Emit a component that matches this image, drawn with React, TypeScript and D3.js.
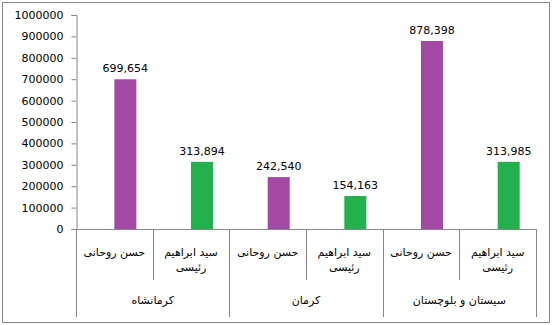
import React, { useEffect, useRef } from 'react';
import * as d3 from 'd3';

const groups = ['کرمانشاه', 'کرمان', 'سیستان و بلوچستان'];
const candidates = [['حسن روحانی'], ['سید ابراهیم', 'رئیسی']];
const seriesKeys = ['rouhani', 'raisi'];
const votes = [699654, 313894, 242540, 154163, 878398, 313985];
const yTicks = [0, 100000, 200000, 300000, 400000, 500000, 600000, 700000, 800000, 900000, 1000000];

const colors: Record<string, string> = { rouhani: '#A349A4', raisi: '#22B14C' };

const App: React.FC = () => {
	const svgRef = useRef<SVGSVGElement | null>(null);

	useEffect(() => {
		if (svgRef.current == null) return;

		const width = 552;
		const height = 325;
		const margin = { top: 15, right: 16, bottom: 96, left: 76 };
		const innerWidth = width - margin.left - margin.right;
		const innerHeight = height - margin.top - margin.bottom;
		const axisColor = '#868686';
		const font = '"DejaVu Sans", Tahoma, sans-serif';

		const rows = votes.map((v, i) => ({
			idx: i,
			group: groups[Math.floor(i / 2)],
			label: candidates[i % 2],
			key: seriesKeys[i % 2],
			value: v,
		}));

		const xScale = d3.scaleBand<number>()
			.domain(rows.map(d => d.idx))
			.range([0, innerWidth]);

		// two slots per category, bar drawn in the second one (as in the original sheet)
		const slot = d3.scaleBand<string>()
			.domain(['s0', 's1'])
			.range([0, xScale.bandwidth()])
			.paddingOuter(0.74);

		const yScale = d3.scaleLinear()
			.domain([0, 1000000])
			.range([innerHeight, 0]);

		const svg = d3.select(svgRef.current);
		svg.selectAll('*').remove();
		svg.attr('width', width).attr('height', height);

		svg.append('rect')
			.attr('x', 2.5).attr('y', 2.5)
			.attr('width', width - 5).attr('height', height - 5)
			.attr('fill', 'white')
			.attr('stroke', axisColor);

		const g = svg.append('g')
			.attr('transform', `translate(${margin.left},${margin.top})`);

		// y axis
		const yAxis = g.append('g')
			.attr('transform', 'translate(0.5,0)')
			.call(d3.axisLeft(yScale).tickValues(yTicks).tickFormat(d3.format('d')).tickSize(5).tickPadding(8));
		yAxis.select('.domain').attr('stroke', axisColor);
		yAxis.selectAll('.tick line').attr('stroke', axisColor);
		yAxis.selectAll('.tick text')
			.attr('fill', '#000')
			.style('font-family', font)
			.style('font-size', '11px');

		// bars
		g.selectAll('rect.bar')
			.data(rows)
			.enter()
			.append('rect')
			.attr('class', 'bar')
			.attr('x', d => (xScale(d.idx) || 0) + (slot('s1') || 0))
			.attr('y', d => yScale(d.value))
			.attr('width', slot.bandwidth())
			.attr('height', d => innerHeight - yScale(d.value))
			.attr('fill', d => colors[d.key]);

		// value labels
		g.selectAll('text.val')
			.data(rows)
			.enter()
			.append('text')
			.attr('class', 'val')
			.attr('x', d => (xScale(d.idx) || 0) + (slot('s1') || 0) + slot.bandwidth() / 2)
			.attr('y', d => yScale(d.value) - 7)
			.attr('text-anchor', 'middle')
			.style('font-family', font)
			.style('font-size', '11px')
			.attr('fill', '#000')
			.text(d => d3.format(',')(d.value));

		// x axis baseline
		g.append('line')
			.attr('x1', 0).attr('x2', innerWidth)
			.attr('y1', innerHeight + 0.5).attr('y2', innerHeight + 0.5)
			.attr('stroke', axisColor);

		// dividers
		const boundaries = d3.range(0, rows.length + 1).map(i =>
			i < rows.length ? (xScale(i) || 0) : innerWidth);
		boundaries.forEach((bx, i) => {
			const isGroup = i % 2 === 0;
			g.append('line')
				.attr('x1', Math.round(bx) + 0.5).attr('x2', Math.round(bx) + 0.5)
				.attr('y1', innerHeight)
				.attr('y2', innerHeight + (isGroup ? 88 : 51))
				.attr('stroke', axisColor);
		});

		// candidate labels
		rows.forEach(d => {
			const cx = (xScale(d.idx) || 0) + xScale.bandwidth() / 2;
			d.label.forEach((line, li) => {
				g.append('text')
					.attr('x', cx)
					.attr('y', innerHeight + 27 + li * 15)
					.attr('text-anchor', 'middle')
					.attr('direction', 'rtl')
					.style('font-family', font)
					.style('font-size', '11px')
					.attr('fill', '#000')
					.text(line);
			});
		});

		// group labels
		groups.forEach((grp, gi) => {
			const cx = (xScale(gi * 2) || 0) + xScale.bandwidth();
			g.append('text')
				.attr('x', cx)
				.attr('y', innerHeight + 75)
				.attr('text-anchor', 'middle')
				.attr('direction', 'rtl')
				.style('font-family', font)
				.style('font-size', '11px')
				.attr('fill', '#000')
				.text(grp);
		});
	}, []);

	return (
		<svg ref={svgRef} style={{ position: 'absolute', left: 0, top: 0 }}></svg>
	);
};

export default App;
